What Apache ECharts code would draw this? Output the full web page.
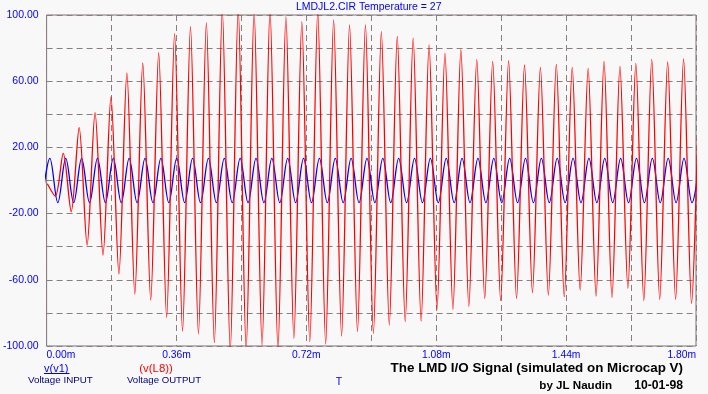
<!DOCTYPE html>
<html><head><meta charset="utf-8">
<script src="https://cdn.jsdelivr.net/npm/echarts@6/dist/echarts.min.js"></script>
<style>html,body{margin:0;padding:0;background:#f8f8f8;}#c{width:708px;height:394px;}</style>
</head><body><div id="c"></div>
<script>
// Time axis in ms ("m" suffix in the original)
const xTickValues = [0, 0.36, 0.72, 1.08, 1.44, 1.80];
const xTickLabels = ['0.00m', '0.36m', '0.72m', '1.08m', '1.44m', '1.80m'];
const yTickValues = [-100, -60, -20, 20, 60, 100];
const yTickLabels = ['-100.00', '-60.00', '-20.00', '20.00', '60.00', '100.00'];

// v(L8) "Voltage OUTPUT": successive extremes (peak / trough), sampled every half period
const redStart = 0.0020;        // ms, time of first sample
const redHalfPeriod = 0.022044; // ms
const redValues = [
  -2, -9.5, 16.4, -18.8, 32, -39, 41, -45, 50.5, -56.5,
  65, -68.6, 71, -72.2, 77.2, -82.7, 88.7, -91, 93, -92.7,
  95.2, -98, 103, -103, 104, -102, 102, -99.5, 103, -102,
  99, -95.4, 96, -97.4, 102, -98.8, 97, -94, 94, -91.3,
  94, -92.3, 90, -87.3, 87, -85.3, 86, -84.9, 82, -77.8,
  77, -77.8, 79, -76, 73, -71.2, 72, -72.6, 72.4, -71.2,
  69.8, -67.8, 68.4, -69.2, 70.2, -70.2, 68.4, -66.2, 67.8, -69.8,
  72, -70.6, 69, -65.1, 70.8, -72.6, 73.2, -71.8, 71.6, -71.8,
  73.4, -74.2, 74
];

// v(v1) "Voltage INPUT": successive extremes, sampled every half period
const blueStart = -0.01286;
const blueHalfPeriod = 0.021972;
const blueValues = [
  -13.4, 13.4, -13.4, 13.4, -13.4, 13.4, -13.4, 13.4, -13.4, 13.4,
  -13.4, 13.4, -13.4, 13.4, -13.4, 13.4, -13.4, 13.4, -13.4, 13.4,
  -13.4, 13.4, -13.4, 13.4, -13.4, 13.4, -13.4, 13.4, -13.4, 13.4,
  -13.4, 13.4, -13.4, 13.4, -13.4, 13.4, -13.4, 13.4, -13.4, 13.4,
  -13.4, 13.4, -13.4, 13.4, -13.4, 13.4, -13.4, 13.4, -13.4, 13.4,
  -13.4, 13.4, -13.4, 13.4, -13.4, 13.4, -13.4, 13.4, -13.4, 13.4,
  -13.4, 13.4, -13.4, 13.4, -13.4, 13.4, -13.4, 13.4, -13.4, 13.4,
  -13.4, 13.4, -13.4, 13.4, -13.4, 13.4, -13.4, 13.4, -13.4, 13.4,
  -13.4, 13.4, -13.4, 13.4
];

const redData = redValues.map((v, i) => [redStart + i * redHalfPeriod, v]);
const blueData = blueValues.map((v, i) => [blueStart + i * blueHalfPeriod, v]);

function pick(vals, labels, v) {
  const i = vals.findIndex(x => Math.abs(x - v) < 1e-6);
  return i < 0 ? '' : labels[i];
}

const gridColor = '#8a7e7e';
const FONT = '"Liberation Sans", Arial, sans-serif';
const chart = echarts.init(document.getElementById('c'), null, {renderer: 'canvas'});
chart.setOption({
  animation: false,
  backgroundColor: '#f8f8f8',
  grid: {left: 44, top: 15, width: 652, height: 331, show: true, borderColor: '#7d7272', borderWidth: 1, backgroundColor: 'transparent'},
  xAxis: {
    type: 'value', min: 0, max: 1.8, interval: 0.18,
    axisLine: {show: false}, axisTick: {show: false},
    splitLine: {show: true, lineStyle: {color: gridColor, type: [6, 4], width: 1}},
    axisLabel: {
      color: '#0000ff', fontSize: 10.3, fontFamily: FONT, margin: 4,
      showMinLabel: true, showMaxLabel: true,
      alignMinLabel: 'left', alignMaxLabel: 'right',
      formatter: v => pick(xTickValues, xTickLabels, v)
    }
  },
  yAxis: {
    type: 'value', min: -100, max: 100, interval: 20,
    axisLine: {show: false}, axisTick: {show: false},
    splitLine: {show: true, lineStyle: {color: gridColor, type: [6, 4], width: 1}},
    axisLabel: {
      color: '#0000ff', fontSize: 10.5, fontFamily: FONT, margin: 8,
      showMinLabel: true, showMaxLabel: true,
      formatter: v => pick(yTickValues, yTickLabels, v)
    }
  },
  series: [
    {type: 'line', name: 'v(v1)', data: blueData, showSymbol: false, smooth: 0.36, clip: true,
     lineStyle: {color: '#0000ff', width: 1.3}, z: 2},
    {type: 'line', name: 'v(L8)', data: redData, showSymbol: false, smooth: 0.3, clip: true,
     lineStyle: {color: '#ff0000', width: 1.3}, z: 3}
  ],
  graphic: [
    {type: 'text', x: 368.7, y: 7.5, style: {text: 'LMDJL2.CIR Temperature = 27', fill: '#0000ff', font: '10.5px ' + FONT, textAlign: 'center', textVerticalAlign: 'middle'}},
    {type: 'text', x: 44, y: 368.5, style: {text: 'v(v1)', fill: '#0000ff', font: '11px ' + FONT, textAlign: 'left', textVerticalAlign: 'middle'}},
    {type: 'line', shape: {x1: 44, y1: 373.5, x2: 69.5, y2: 373.5}, style: {stroke: '#0000ff', lineWidth: 1}},
    {type: 'text', x: 28, y: 380.5, style: {text: 'Voltage INPUT', fill: '#000080', font: '9.8px ' + FONT, textAlign: 'left', textVerticalAlign: 'middle'}},
    {type: 'text', x: 139.3, y: 368.5, style: {text: '(v(L8))', fill: '#ff0000', font: '11.4px ' + FONT, textAlign: 'left', textVerticalAlign: 'middle'}},
    {type: 'text', x: 127, y: 380.5, style: {text: 'Voltage OUTPUT', fill: '#000080', font: '9.6px ' + FONT, textAlign: 'left', textVerticalAlign: 'middle'}},
    {type: 'text', x: 339, y: 382, style: {text: 'T', fill: '#0000ff', font: '10.5px ' + FONT, textAlign: 'center', textVerticalAlign: 'middle'}},
    {type: 'text', x: 683, y: 368, style: {text: 'The LMD I/O Signal (simulated on Microcap V)', fill: '#000000', font: 'bold 13.4px ' + FONT, textAlign: 'right', textVerticalAlign: 'middle'}},
    {type: 'text', x: 539.3, y: 386, style: {text: 'by JL Naudin', fill: '#000000', font: 'bold 11.6px ' + FONT, textAlign: 'left', textVerticalAlign: 'middle'}},
    {type: 'text', x: 683, y: 386, style: {text: '10-01-98', fill: '#000000', font: 'bold 12.2px ' + FONT, textAlign: 'right', textVerticalAlign: 'middle'}}
  ]
});
</script>
</body></html>
